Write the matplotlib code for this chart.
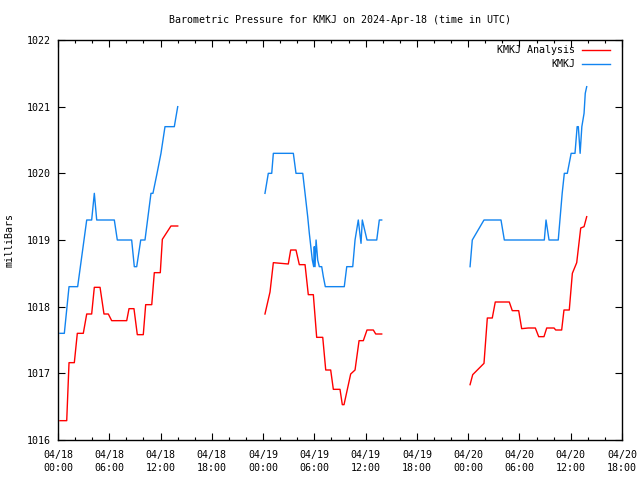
import matplotlib
matplotlib.use("Agg")
import matplotlib.pyplot as plt
import numpy as np

# Hours since 2024-04-18 00:00 UTC
obs_t1 = [0.23, 0.74, 1.29, 2.3, 3.36, 3.94, 4.25, 4.53, 6.59, 6.94, 8.62, 8.93, 9.21, 9.68, 10.18, 10.88, 11.11, 11.59, 12.05, 12.52, 13.61, 14.01]
obs_p1 = [1017.6, 1017.6, 1018.3, 1018.3, 1019.3, 1019.3, 1019.7, 1019.3, 1019.3, 1019.0, 1019.0, 1018.6, 1018.6, 1019.0, 1019.0, 1019.7, 1019.7, 1020.0, 1020.3, 1020.7, 1020.7, 1021.0]
obs_t2 = [24.22, 24.61, 25.01, 25.2, 27.54, 27.85, 28.64, 28.91, 29.22, 29.41, 29.76, 29.92, 29.99, 30.08, 30.2, 30.39, 30.58, 30.86, 31.05, 31.28, 33.5, 33.79, 34.49, 34.76, 35.14, 35.46, 35.61, 36.16, 37.3, 37.6, 37.88]
obs_p2 = [1019.7, 1020.0, 1020.0, 1020.3, 1020.3, 1020.0, 1020.0, 1019.7, 1019.35, 1019.1, 1018.7, 1018.6, 1018.9, 1018.6, 1019.0, 1018.7, 1018.6, 1018.6, 1018.45, 1018.3, 1018.3, 1018.6, 1018.6, 1019.0, 1019.3, 1018.95, 1019.3, 1019.0, 1019.0, 1019.3, 1019.3]
obs_t3 = [48.22, 48.48, 49.85, 51.84, 52.23, 56.91, 57.11, 57.46, 58.54, 59.0, 59.25, 59.6, 60.05, 60.5, 60.75, 60.89, 61.1, 61.3, 61.56, 61.7, 61.87]
obs_p3 = [1018.6, 1019.0, 1019.3, 1019.3, 1019.0, 1019.0, 1019.3, 1019.0, 1019.0, 1019.7, 1020.0, 1020.0, 1020.3, 1020.3, 1020.7, 1020.7, 1020.3, 1020.7, 1020.9, 1021.2, 1021.3]

ana_t1 = [0.23, 1.02, 1.29, 1.91, 2.26, 2.96, 3.36, 3.94, 4.25, 4.92, 5.38, 5.89, 6.28, 8.04, 8.31, 8.89, 9.28, 9.98, 10.26, 10.97, 11.27, 11.97, 12.21, 13.22, 14.01]
ana_p1 = [1016.29, 1016.29, 1017.16, 1017.16, 1017.6, 1017.6, 1017.89, 1017.89, 1018.29, 1018.29, 1017.89, 1017.89, 1017.79, 1017.79, 1017.97, 1017.97, 1017.58, 1017.58, 1018.03, 1018.03, 1018.51, 1018.51, 1019.01, 1019.21, 1019.21]
ana_t2 = [24.22, 24.81, 25.2, 26.95, 27.23, 27.85, 28.24, 28.91, 29.29, 29.88, 30.27, 30.98, 31.33, 31.91, 32.22, 33.0, 33.27, 33.47, 34.25, 34.76, 35.23, 35.73, 36.16, 36.9, 37.18, 37.88]
ana_p2 = [1017.89, 1018.22, 1018.66, 1018.64, 1018.85, 1018.85, 1018.63, 1018.63, 1018.18, 1018.18, 1017.54, 1017.54, 1017.05, 1017.05, 1016.76, 1016.76, 1016.53, 1016.53, 1016.99, 1017.05, 1017.49, 1017.49, 1017.65, 1017.65, 1017.59, 1017.59]
ana_t3 = [48.22, 48.53, 49.85, 50.24, 50.82, 51.17, 52.81, 53.16, 53.91, 54.26, 55.03, 55.86, 56.25, 56.87, 57.19, 58.05, 58.24, 58.94, 59.21, 59.83, 60.19, 60.7, 61.17, 61.56, 61.87]
ana_p3 = [1016.83, 1016.98, 1017.15, 1017.83, 1017.83, 1018.07, 1018.07, 1017.94, 1017.94, 1017.67, 1017.68, 1017.68, 1017.55, 1017.55, 1017.68, 1017.68, 1017.65, 1017.65, 1017.95, 1017.95, 1018.5, 1018.66, 1019.18, 1019.2, 1019.35]

xtick_hours = list(range(0, 67, 6))
xtick_labels = ["04/18\n00:00", "04/18\n06:00", "04/18\n12:00", "04/18\n18:00",
                "04/19\n00:00", "04/19\n06:00", "04/19\n12:00", "04/19\n18:00",
                "04/20\n00:00", "04/20\n06:00", "04/20\n12:00", "04/20\n18:00"]
yticks = [1016, 1017, 1018, 1019, 1020, 1021, 1022]

RED = "#ff0000"
BLUE = "#1284f0"
FONT = "DejaVu Sans Mono"
FS = 7.2

fig = plt.figure(figsize=(6.4, 4.8), dpi=100)
ax = fig.add_axes([58/640, 40/480, 564/640, 400/480])

for t, p in [(ana_t1, ana_p1), (ana_t2, ana_p2), (ana_t3, ana_p3)]:
    ax.plot(t, p, color=RED, lw=1.0)
for t, p in [(obs_t1, obs_p1), (obs_t2, obs_p2), (obs_t3, obs_p3)]:
    ax.plot(t, p, color=BLUE, lw=1.0)

ax.set_xlim(0, 66)
ax.set_ylim(1016, 1022)
ax.set_xticks(xtick_hours)
ax.set_xticklabels(xtick_labels, fontfamily=FONT, fontsize=FS, linespacing=1.45)
ax.set_xticks(np.arange(0, 67, 2), minor=True)
ax.set_yticks(yticks)
ax.set_yticklabels([str(v) for v in yticks], fontfamily=FONT, fontsize=FS)
ax.tick_params(which="both", direction="in", top=True, right=True, width=0.8, colors="black")
ax.tick_params(which="major", length=5, pad=5)
ax.tick_params(which="minor", length=2.5)
ax.tick_params(axis="x", which="major", pad=7)
for s in ax.spines.values():
    s.set_linewidth(1.0)

fig.text(340/640, 1 - 20/480, "Barometric Pressure for KMKJ on 2024-Apr-18 (time in UTC)",
         ha="center", va="center", fontfamily=FONT, fontsize=FS)
fig.text(10/640, 0.5, "milliBars", rotation=90, ha="center", va="center",
         fontfamily=FONT, fontsize=FS)

# legend
leg = [("KMKJ Analysis", RED, 0.975), ("KMKJ", BLUE, 0.94)]
for label, col, yy in leg:
    ax.text(0.9167, yy, label, transform=ax.transAxes, ha="right", va="center",
            fontfamily=FONT, fontsize=FS)
    ax.plot([0.929, 0.9787], [yy, yy], color=col, lw=1.0, transform=ax.transAxes)

fig.savefig("out.png", dpi=100)
